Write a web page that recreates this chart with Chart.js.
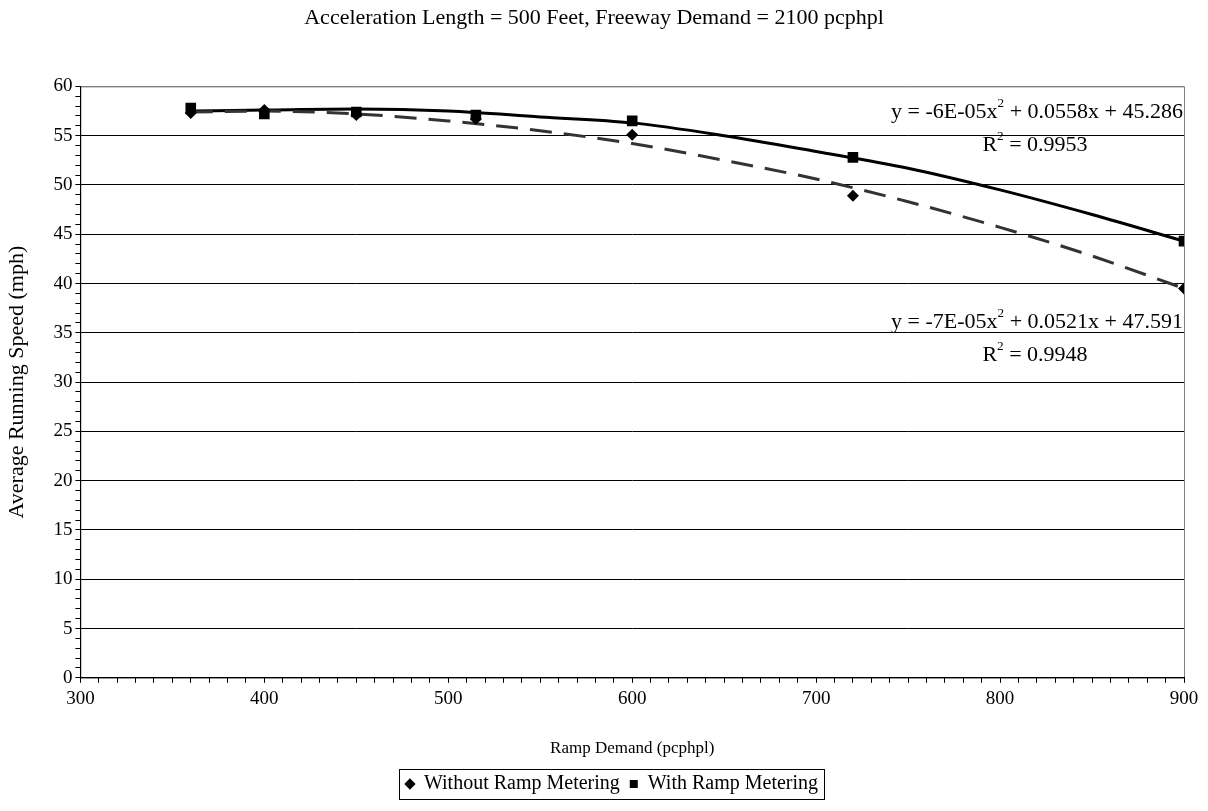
<!DOCTYPE html>
<html>
<head>
<meta charset="utf-8">
<title>Average Running Speed vs Ramp Demand</title>
<script src="https://cdn.jsdelivr.net/npm/chart.js@4.4.1/dist/chart.umd.min.js"></script>
<style>
  html, body { margin: 0; padding: 0; background: #fff; }
  #wrap { width: 1208px; height: 811px; }
</style>
</head>
<body>
<div id="wrap"><canvas id="speedChart" width="1208" height="811"></canvas></div>
<script>
// Datos
const rampDemand = [360, 400, 450, 515, 600, 720, 900];
const speedWithout = [57.3, 57.6, 57.1, 56.7, 55.1, 48.9, 39.5];
const speedWith = [57.8, 57.2, 57.4, 57.1, 56.5, 52.8, 44.3];

// Líneas de tendencia (polinómicas), leídas punto a punto
const trendX = [360, 400, 450, 500, 550, 600, 650, 700, 750, 800, 850, 900];
const trendWith = [57.5, 57.6, 57.7, 57.5, 56.9, 56.3, 55.0, 53.4, 51.7, 49.5, 47.0, 44.3];
const trendWithout = [57.4, 57.5, 57.2, 56.5, 55.5, 54.2, 52.5, 50.6, 48.3, 45.7, 42.8, 39.5];

const chartTitle = 'Acceleration Length = 500 Feet, Freeway Demand = 2100 pcphpl';
const xTitle = 'Ramp Demand (pcphpl)';
const yTitle = 'Average Running Speed (mph)';
const seriesNames = ['Without Ramp Metering', 'With Ramp Metering'];

// Etiquetas de ecuaciones: [texto, superíndice?]
const eqWith = [['y = -6E-05x', false], ['2', true], [' + 0.0558x + 45.286', false]];
const r2With = [['R', false], ['2', true], [' = 0.9953', false]];
const eqWithout = [['y = -7E-05x', false], ['2', true], [' + 0.0521x + 47.591', false]];
const r2Without = [['R', false], ['2', true], [' = 0.9948', false]];

const serif = "'Liberation Serif', 'Times New Roman', serif";

function toPoints(xs, ys) {
    return xs.map(function(x, i) { return { x: x, y: ys[i] }; });
}

// Dibuja texto con superíndices
function drawRich(ctx, parts, x, y, align, size) {
    var total = 0;
    parts.forEach(function(p) {
        ctx.font = (p[1] ? size * 0.6 : size) + 'px ' + serif;
        total += ctx.measureText(p[0]).width;
    });
    var cx = align === 'right' ? x - total : (align === 'center' ? x - total / 2 : x);
    parts.forEach(function(p) {
        ctx.font = (p[1] ? size * 0.6 : size) + 'px ' + serif;
        ctx.fillText(p[0], cx, p[1] ? y - size * 0.4 : y);
        cx += ctx.measureText(p[0]).width;
    });
}

const framePlugin = {
    id: 'frame',
    afterLayout: function(chart) {
        // La leyenda del original está un poco a la derecha
        var lg = chart.legend, dx = 18;
        lg.left += dx;
        lg.right += dx;
        lg.legendHitBoxes.forEach(function(b) { b.left += dx; });
    },
    beforeDraw: function(chart) {
        var a = chart.chartArea, ctx = chart.ctx;
        ctx.save();
        ctx.strokeStyle = '#808080';
        ctx.lineWidth = 1;
        ctx.strokeRect(a.left + 0.5, a.top + 0.5, a.right - a.left, a.bottom - a.top);
        ctx.restore();
    },
    afterDraw: function(chart) {
        var ctx = chart.ctx, xs = chart.scales.x, ys = chart.scales.y;
        ctx.save();
        ctx.fillStyle = '#000';
        ctx.textBaseline = 'middle';
        var right = chart.chartArea.right - 1;
        drawRich(ctx, eqWith, right, ys.getPixelForValue(57.35), 'right', 22);
        drawRich(ctx, r2With, xs.getPixelForValue(819), ys.getPixelForValue(54.0), 'center', 22);
        drawRich(ctx, eqWithout, right, ys.getPixelForValue(36.1), 'right', 22);
        drawRich(ctx, r2Without, xs.getPixelForValue(819), ys.getPixelForValue(32.75), 'center', 22);

        // Borde de la leyenda
        var boxes = chart.legend.legendHitBoxes;
        if (boxes && boxes.length) {
            var l = Math.min.apply(null, boxes.map(function(b) { return b.left; }));
            var r = Math.max.apply(null, boxes.map(function(b) { return b.left + b.width; }));
            var t = boxes[0].top;
            var h = boxes[0].height;
            ctx.strokeStyle = '#000';
            ctx.lineWidth = 1;
            ctx.strokeRect(Math.round(l - 7) + 0.5, Math.round(t - 5) + 0.5, Math.round(r - l + 13), Math.round(h + 10));
        }
        ctx.restore();
    }
};

const ctx = document.getElementById('speedChart').getContext('2d');
const speedChart = new Chart(ctx, {
    type: 'scatter',
    data: {
        datasets: [
            {
                label: seriesNames[0],
                data: toPoints(rampDemand, speedWithout),
                pointStyle: 'rectRot',
                pointRadius: 6,
                backgroundColor: '#000',
                borderColor: '#000',
                borderWidth: 0,
                order: 0
            },
            {
                label: seriesNames[1],
                data: toPoints(rampDemand, speedWith),
                pointStyle: 'rect',
                pointRadius: 7.5,
                backgroundColor: '#000',
                borderColor: '#000',
                borderWidth: 0,
                order: 0
            },
            {
                label: 'trend-without',
                data: toPoints(trendX, trendWithout),
                showLine: true,
                pointRadius: 0,
                borderColor: '#333',
                borderWidth: 3,
                borderDash: [22, 12],
                cubicInterpolationMode: 'monotone',
                order: 1
            },
            {
                label: 'trend-with',
                data: toPoints(trendX, trendWith),
                showLine: true,
                pointRadius: 0,
                borderColor: '#000',
                borderWidth: 3,
                cubicInterpolationMode: 'monotone',
                order: 1
            }
        ]
    },
    options: {
        responsive: false,
        animation: false,
        devicePixelRatio: 1,
        layout: { padding: { left: 4, right: 24, top: 0, bottom: 7 } },
        plugins: {
            title: {
                display: true,
                text: chartTitle,
                color: '#000',
                font: { family: serif, size: 22, weight: 'normal' },
                padding: { top: 5, bottom: 55 }
            },
            legend: {
                position: 'bottom',
                labels: {
                    color: '#000',
                    font: { family: serif, size: 20 },
                    usePointStyle: true,
                    boxWidth: 8,
                    boxHeight: 8,
                    padding: 10,
                    filter: function(item) { return item.text.indexOf('trend') !== 0; }
                }
            },
            tooltip: { enabled: false }
        },
        scales: {
            x: {
                type: 'linear',
                min: 300,
                max: 900,
                title: {
                    display: true,
                    text: xTitle,
                    color: '#000',
                    font: { family: serif, size: 17 },
                    padding: { top: 23, bottom: 5 }
                },
                ticks: {
                    stepSize: 10,
                    autoSkip: false,
                    maxRotation: 0,
                    color: '#000',
                    font: { family: serif, size: 19 },
                    padding: 5,
                    callback: function(v) { return v % 100 === 0 ? v : ''; }
                },
                grid: {
                    drawOnChartArea: false,
                    drawTicks: true,
                    tickLength: 5,
                    tickColor: '#000'
                },
                border: { color: '#000', width: 1 }
            },
            y: {
                min: 0,
                max: 60,
                title: {
                    display: true,
                    text: yTitle,
                    color: '#000',
                    font: { family: serif, size: 22 },
                    padding: { top: 0, bottom: 20 }
                },
                ticks: {
                    stepSize: 1,
                    autoSkip: false,
                    color: '#000',
                    font: { family: serif, size: 19 },
                    padding: 3,
                    callback: function(v) { return v % 5 === 0 ? v : ''; }
                },
                grid: {
                    color: function(c) {
                        if (!c.tick) return 'transparent';
                        if (c.tick.value === 60) return '#808080';
                        return c.tick.value % 5 === 0 ? '#000' : 'transparent';
                    },
                    tickColor: '#000',
                    tickLength: 5
                },
                border: { color: '#000', width: 1 }
            }
        }
    },
    plugins: [framePlugin]
});
</script>
</body>
</html>
